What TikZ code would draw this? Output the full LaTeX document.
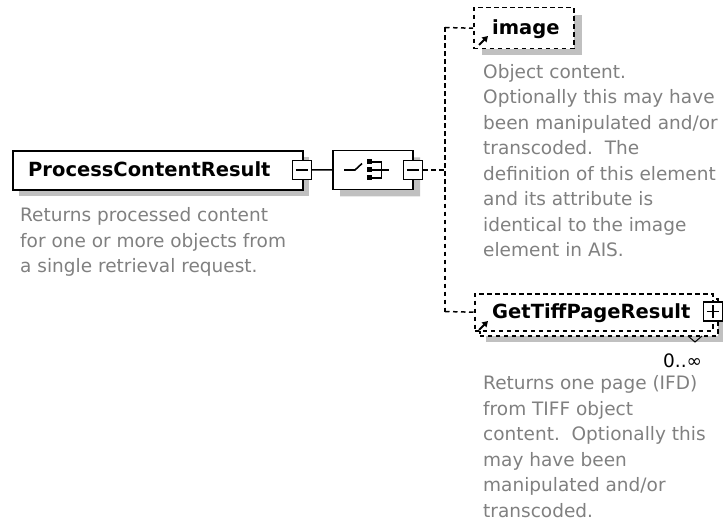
\documentclass[tikz,border=0pt]{standalone}
\usepackage{fontspec}
\setmainfont{DejaVu Sans}
\usetikzlibrary{arrows.meta,shapes.misc}
\definecolor{descgray}{RGB}{128,128,128}
\definecolor{shadowgray}{RGB}{192,192,192}
\tikzset{
  elembox/.style={draw=black, line width=2bp, fill=white, rectangle, inner sep=0pt, anchor=north west},
  optbox/.style={draw=black, line width=1.5bp, dash pattern=on 4.5bp off 3.5bp, fill=white, rectangle, inner sep=0pt, anchor=north west},
  seqbox/.style={draw=black, line width=1.5bp, fill=white, chamfered rectangle, chamfered rectangle xsep=9bp, chamfered rectangle ysep=9bp, inner sep=0pt, anchor=north west},
  pmbox/.style={draw=black, line width=1.3bp, fill=white, rectangle, minimum size=19bp, inner sep=0pt},
  pmline/.style={line width=1.3bp},
  shade/.style={fill=shadowgray, draw=none},
  conn/.style={line width=1.5bp},
  optconn/.style={line width=1.5bp, dash pattern=on 4.5bp off 3.5bp},
  symline/.style={line width=1.6bp},
  refarrow/.style={line width=2bp, -{Triangle[length=5.5bp,width=6.5bp]}},
  title/.style={font=\fontsize{19.5bp}{22bp}\selectfont\bfseries, inner sep=0pt, anchor=base west},
  desc/.style={font=\fontsize{18.5bp}{25.5bp}\selectfont, text=descgray, inner sep=0pt, anchor=base west, align=left},
  occ/.style={font=\fontsize{18.5bp}{22bp}\selectfont, inner sep=0pt, anchor=base west},
}
\begin{document}
\begin{tikzpicture}[x=1bp,y=-1bp]
\useasboundingbox (0,0) rectangle (723,528);

% ---- root element ----
\fill[shade] (19,157) rectangle (309,196);
\node[elembox, minimum width=290bp, minimum height=39bp] (pcr) at (12,150) {};
\node[title] (pcrlabel) at (28,177) {ProcessContentResult};
\node[pmbox] (pcrminus) at (302,170) {};
\draw[pmline] ([xshift=4bp]pcrminus.west) -- ([xshift=-4bp]pcrminus.east);
% anchor = baseline of the last line
\node[desc] (pcrdesc) at (20,273) {Returns processed content\\for one or more objects from\\a single retrieval request.};

% ---- sequence compositor ----
\node[seqbox, fill=shadowgray, draw=none, minimum width=80bp, minimum height=39bp] (seqshadow) at (340,157) {};
\node[seqbox, minimum width=80bp, minimum height=39bp] (seq) at (333,150) {};
\draw[symline] (344,170) -- (355,170) -- (362,163.5);
\fill (366.5,159.5) rectangle (371.5,164.5);
\fill (366.5,167.5) rectangle (371.5,172.5);
\fill (366.5,175.5) rectangle (371.5,180.5);
\draw[symline] (371,162.2) -- (381.5,162.2) -- (381.5,177.8) -- (371,177.8);
\draw[symline] (371,170) -- (381.5,170);
\draw[symline] (381.5,170) -- (389,170);
\node[pmbox] (seqminus) at (413,170) {};
\draw[pmline] ([xshift=4bp]seqminus.west) -- ([xshift=-4bp]seqminus.east);

\draw[conn] (pcrminus.east) -- (seq.west);

% ---- child: image ----
\fill[shade] (482,15) rectangle (582,55);
\node[optbox, minimum width=100bp, minimum height=41bp] (imgbox) at (473,7) {};
\node[title] (imglabel) at (492,35) {image};
\draw[refarrow] (479,45) -- (488,36);
\node[desc] (imgdesc) at (483,257) {Object content.\\Optionally this may have\\been manipulated and/or\\transcoded.\ \ The\\definition of this element\\and its attribute is\\identical to the image\\element in AIS.};

% ---- child: GetTiffPageResult ----
\fill[shade] (486,305) rectangle (724,342);
\node[optbox, minimum width=238bp, minimum height=37bp] (tiffback) at (479,298) {};
\node[optbox, minimum width=238bp, minimum height=37bp] (tiffbox) at (474,293) {};
\node[title] (tifflabel) at (492,318) {GetTiffPageResult};
\draw[refarrow] (479,330) -- (488,321);
\node[pmbox] (tiffplus) at (713,311.5) {};
\draw[pmline] ([xshift=4bp]tiffplus.west) -- ([xshift=-4bp]tiffplus.east);
\draw[pmline] ([yshift=-4bp]tiffplus.north) -- ([yshift=4bp]tiffplus.south);
\draw[line width=1bp] (688,336) -- (695,342) -- (702,336);
\node[occ] (tiffocc) at (663,367) {0..∞};
\node[desc] (tiffdesc) at (483,517) {Returns one page (IFD)\\from TIFF object\\content.\ \ Optionally this\\may have been\\manipulated and/or\\transcoded.};

% ---- connectors ----
\coordinate (busmid) at (445,170);
\coordinate (bustop) at (445,27.5);
\coordinate (busbot) at (445,311.5);
\draw[optconn] (seqminus.east) -- (busmid);
\draw[optconn] (bustop) -- (busbot);
\draw[optconn] (bustop) -- (imgbox.west);
\draw[optconn] (busbot) -- (tiffbox.west);
\end{tikzpicture}
\end{document}
